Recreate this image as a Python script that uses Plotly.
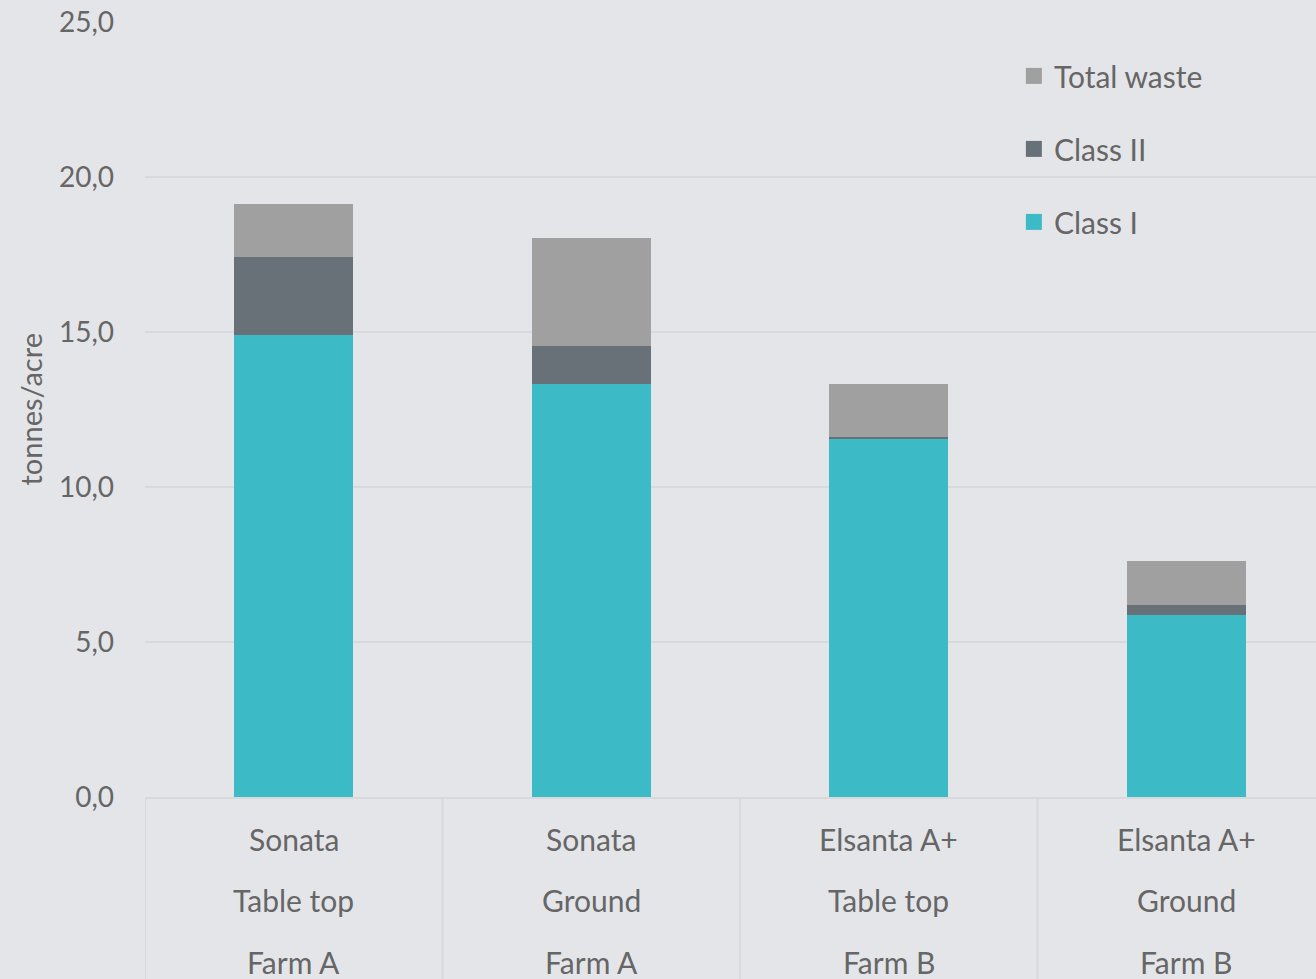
import plotly.graph_objects as go

variety = ["Sonata", "Sonata", "Elsanta A+", "Elsanta A+"]
system = ["Table top", "Ground", "Table top", "Ground"]
farm = ["Farm A", "Farm A", "Farm B", "Farm B"]
categories = ["Sonata Table top Farm A", "Sonata Ground Farm A",
              "Elsanta A+ Table top Farm B", "Elsanta A+ Ground Farm B"]

class_1 = [14.9, 13.32, 11.55, 5.87]
class_2 = [2.52, 1.23, 0.05, 0.33]
total_waste = [1.71, 3.48, 1.72, 1.41]

series = [("Class I", class_1, "#3CBAC6"),
          ("Class II", class_2, "#687078"),
          ("Total waste", total_waste, "#A0A0A0")]

BG = "#E4E5E9"
GRID = "#D8D9DC"
TXT = "#666666"
FONT = "Lato"

fig = go.Figure()
for name, vals, col in series:
    fig.add_trace(go.Bar(x=categories, y=vals, name=name, marker_color=col,
                         marker_line_width=0, showlegend=False))
# legend entries (square swatches), top-to-bottom: Total waste, Class II, Class I
for rank, (name, vals, col) in enumerate(reversed(series)):
    fig.add_trace(go.Scatter(x=[None], y=[None], mode="markers", name=name,
                             marker=dict(symbol="square", size=18, color=col),
                             legendgroup=name, legendrank=rank + 1, hoverinfo="skip"))

annotations = []
for i, c in enumerate(categories):
    for lab, shift in ((variety[i], -42), (system[i], -103), (farm[i], -165)):
        annotations.append(dict(x=c, y=0, xref="x", yref="y", text=lab, showarrow=False,
                                yshift=shift, yanchor="middle",
                                font=dict(family=FONT, size=30, color=TXT)))
annotations.append(dict(x=0, y=0.5, xref="paper", yref="paper", text="tonnes/acre",
                        showarrow=False, textangle=-90, xshift=-115, xanchor="center",
                        yanchor="middle", font=dict(family=FONT, size=29, color=TXT)))

shapes = []
for k in range(len(categories)):
    shapes.append(dict(type="line", xref="x", yref="paper", x0=k - 0.5, x1=k - 0.5,
                       y0=0, y1=-0.3, line=dict(color=GRID, width=2)))

fig.update_layout(
    width=1316, height=979,
    barmode="stack", bargap=0.6,
    paper_bgcolor=BG, plot_bgcolor=BG,
    margin=dict(l=145, r=0, t=22, b=182),
    separators=", ",
    font=dict(family=FONT, color=TXT),
    showlegend=True,
    legend=dict(x=0.742, y=0.964, xanchor="left", yanchor="top",
                traceorder="grouped", tracegroupgap=31,
                bgcolor="rgba(0,0,0,0)", font=dict(family=FONT, size=30, color=TXT)),
    annotations=annotations,
    shapes=shapes,
)
fig.update_xaxes(showticklabels=False, showgrid=False, showline=True, linecolor=GRID,
                 linewidth=2, ticks="", zeroline=False, range=[-0.5, 3.436])
fig.update_yaxes(range=[0, 25], dtick=5, tickformat=".1f", showgrid=True, gridcolor=GRID,
                 gridwidth=2, zeroline=False, showline=False, ticks="",
                 ticklabelstandoff=30, tickfont=dict(family=FONT, size=28, color=TXT))

fig.write_html("out.html", config={"displayModeBar": False},
               post_script="document.body.style.margin='0px';")
